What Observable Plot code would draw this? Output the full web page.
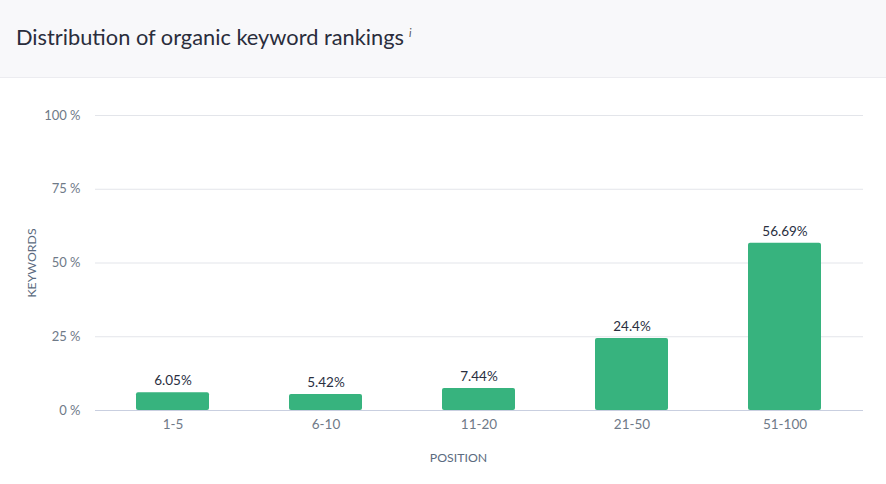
<!DOCTYPE html>
<html><head><meta charset="utf-8">
<script src="https://cdn.jsdelivr.net/npm/d3@7"></script>
<script src="https://cdn.jsdelivr.net/npm/@observablehq/plot@0.6"></script>
<style>
html,body{margin:0;padding:0;background:#fff;font-family:Lato,sans-serif;}
#header{height:77px;background:#f8f8fa;border-bottom:1px solid #ececf0;box-sizing:content-box;position:relative;}
#header h1{margin:0;position:absolute;left:16px;top:23px;font-size:21.8px;font-weight:400;color:#2a2d3c;letter-spacing:0;}
#header h1 sup{font-style:italic;font-size:11px;color:#555;margin-left:5px;vertical-align:8px;}
#chart svg{display:block;}
</style></head>
<body>
<div id="header"><h1>Distribution of organic keyword rankings<sup>i</sup></h1></div>
<div id="chart"></div>
<script>
const positions = ["1-5","6-10","11-20","21-50","51-100"];
const shares = [6.05, 5.42, 7.44, 24.4, 56.69];
const labels = ["6.05%","5.42%","7.44%","24.4%","56.69%"];
const yTicks = [0,25,50,75,100];

const data = positions.map((p,i)=>({position:p, share:shares[i], label:labels[i]}));

const chart = Plot.plot({
  width: 886,
  height: 406,
  marginTop: 37,
  marginBottom: 74,
  marginLeft: 95,
  marginRight: 23,
  style: {fontFamily: "Lato, sans-serif", fontSize: "13px", color: "#6f7a88", background: "#fff"},
  x: {domain: positions, paddingInner: 0.52, paddingOuter: 0.26, label: null},
  y: {domain: [0,100], label: null},
  marks: [
    Plot.gridY(yTicks, {stroke: "#e3e5ea", strokeOpacity: 1}),
    Plot.barY(data, {x: "position", y: "share", fill: "#37b37e", rx: 2}),
    Plot.ruleY([0], {stroke: "#c9cfe0", strokeWidth: 1.2}),
    Plot.text(data, {x: "position", y: "share", text: "label", dy: -12, fill: "#2a2f3f", fontSize: 13.5}),
    Plot.axisX({tickSize: 0, tickPadding: 9, fontSize: 13.5, label: null, fill: "#6f7a88"}),
    Plot.axisY({ticks: yTicks, tickFormat: d => d + " %", tickSize: 0, tickPadding: 15, label: null, fontSize: 13, fill: "#6f7a88"}),
    Plot.text(["POSITION"], {frameAnchor: "bottom", dx: -21, dy: 51, fill: "#5b6b80", fontSize: 12.3}),
    Plot.text(["KEYWORDS"], {frameAnchor: "left", dx: -63, rotate: -90, textAnchor: "middle", fill: "#5b6b80", fontSize: 12.3})
  ]
});
document.getElementById("chart").appendChild(chart);
</script>
</body></html>
